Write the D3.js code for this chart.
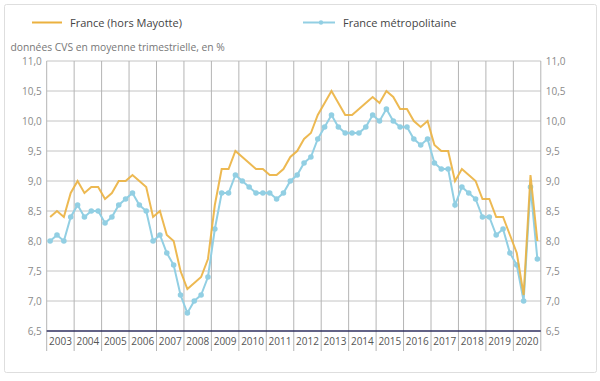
<!DOCTYPE html>
<html>
<head>
<meta charset="utf-8">
<script src="https://cdn.jsdelivr.net/npm/d3@7"></script>
<style>
  body { margin: 0; background: #fff; }
  svg { font-family: "Open Sans", sans-serif; }
</style>
</head>
<body>
<div id="chart"></div>
<script>
var years = ["2003","2004","2005","2006","2007","2008","2009","2010","2011","2012",
  "2013","2014","2015","2016","2017","2018","2019","2020"];

// quarterly values, 4 per year
var franceHorsMayotte = [
  8.4, 8.5, 8.4, 8.8,   9.0, 8.8, 8.9, 8.9,   8.7, 8.8, 9.0, 9.0,
  9.1, 9.0, 8.9, 8.4,   8.5, 8.1, 8.0, 7.5,   7.2, 7.3, 7.4, 7.7,
  8.6, 9.2, 9.2, 9.5,   9.4, 9.3, 9.2, 9.2,   9.1, 9.1, 9.2, 9.4,
  9.5, 9.7, 9.8, 10.1,  10.3, 10.5, 10.3, 10.1, 10.1, 10.2, 10.3, 10.4,
  10.3, 10.5, 10.4, 10.2, 10.2, 10.0, 9.9, 10.0, 9.6, 9.5, 9.5, 9.0,
  9.2, 9.1, 9.0, 8.7,   8.7, 8.4, 8.4, 8.1,   7.8, 7.1, 9.1, 8.0
];
var franceMetro = [
  8.0, 8.1, 8.0, 8.4,   8.6, 8.4, 8.5, 8.5,   8.3, 8.4, 8.6, 8.7,
  8.8, 8.6, 8.5, 8.0,   8.1, 7.8, 7.6, 7.1,   6.8, 7.0, 7.1, 7.4,
  8.2, 8.8, 8.8, 9.1,   9.0, 8.9, 8.8, 8.8,   8.8, 8.7, 8.8, 9.0,
  9.1, 9.3, 9.4, 9.7,   9.9, 10.1, 9.9, 9.8,  9.8, 9.8, 9.9, 10.1,
  10.0, 10.2, 10.0, 9.9, 9.9, 9.7, 9.6, 9.7,  9.3, 9.2, 9.2, 8.6,
  8.9, 8.8, 8.7, 8.4,   8.4, 8.1, 8.2, 7.8,   7.6, 7.0, 8.9, 7.7
];
var yTicks = [6.5, 7.0, 7.5, 8.0, 8.5, 9.0, 9.5, 10.0, 10.5, 11.0];
var seriesNames = ["France (hors Mayotte)", "France métropolitaine"];

var width = 600, height = 381;
var plotLeft = 46.7, plotRight = 540.8, plotTop = 61, plotBottom = 331;
var orange = "#ebb13f", blue = "#92cfe3";

var svg = d3.select("#chart").append("svg")
  .attr("width", width)
  .attr("height", height);

// card
svg.append("rect")
  .attr("x", 4.5).attr("y", 4.5)
  .attr("width", 592).attr("height", 368)
  .attr("rx", 2)
  .attr("fill", "#fff")
  .attr("stroke", "#dedede");

var xBand = d3.scaleBand().domain(years).range([plotLeft, plotRight]);
var y = d3.scaleLinear().domain([6.5, 11]).range([plotBottom, plotTop]);

function qx(i) {
  var yr = years[Math.floor(i / 4)];
  return xBand(yr) + xBand.bandwidth() * ((i % 4) + 0.5) / 4;
}

// horizontal grid
svg.append("g")
  .selectAll("line")
  .data(yTicks.slice(1))
  .join("line")
  .attr("x1", plotLeft).attr("x2", plotRight)
  .attr("y1", d => y(d)).attr("y2", d => y(d))
  .attr("stroke", "#c4c4c4");

// vertical grid (year boundaries), extended into the label row
var bounds = years.map(d => xBand(d)).concat([plotRight]);
svg.append("g")
  .selectAll("line")
  .data(bounds)
  .join("line")
  .attr("x1", d => d).attr("x2", d => d)
  .attr("y1", plotTop).attr("y2", 351)
  .attr("stroke", "#b4b4b4");

// base line
svg.append("line")
  .attr("x1", plotLeft).attr("x2", plotRight)
  .attr("y1", y(6.5)).attr("y2", y(6.5))
  .attr("stroke", "#2f2f5f")
  .attr("stroke-width", 1.3);

var fmt = d => d.toFixed(1).replace(".", ",");

var yl = svg.append("g")
  .attr("transform", "translate(" + plotLeft + ",0)")
  .call(d3.axisLeft(y).tickValues(yTicks).tickFormat(fmt).tickSize(0).tickPadding(5));
var yr = svg.append("g")
  .attr("transform", "translate(" + plotRight + ",0)")
  .call(d3.axisRight(y).tickValues(yTicks).tickFormat(fmt).tickSize(0).tickPadding(5));
[yl, yr].forEach(function (g) {
  g.select(".domain").remove();
  g.selectAll("text").attr("fill", "#8a8a8a").style("font-size", "10px")
    .style("font-family", "Open Sans, sans-serif");
});

// year labels
svg.append("g")
  .selectAll("text")
  .data(years)
  .join("text")
  .attr("x", d => xBand(d) + xBand.bandwidth() / 2)
  .attr("y", 345)
  .attr("text-anchor", "middle")
  .attr("fill", "#555")
  .style("font-size", "10px")
  .text(d => d);

// lines
var line = d3.line()
  .x((d, i) => qx(i))
  .y(d => y(d));

svg.append("path")
  .attr("d", line(franceMetro))
  .attr("fill", "none")
  .attr("stroke", blue)
  .attr("stroke-width", 2);

svg.append("g")
  .selectAll("circle")
  .data(franceMetro)
  .join("circle")
  .attr("cx", (d, i) => qx(i))
  .attr("cy", d => y(d))
  .attr("r", 2.8)
  .attr("fill", blue);

svg.append("path")
  .attr("d", line(franceHorsMayotte))
  .attr("fill", "none")
  .attr("stroke", orange)
  .attr("stroke-width", 2)
  .attr("opacity", 0.9);

// legend
svg.append("line")
  .attr("x1", 32).attr("x2", 62).attr("y1", 22.5).attr("y2", 22.5)
  .attr("stroke", orange).attr("stroke-width", 2);
svg.append("text")
  .attr("x", 70).attr("y", 26.5)
  .attr("fill", "#444").style("font-size", "11px")
  .text(seriesNames[0]);

svg.append("line")
  .attr("x1", 303).attr("x2", 335).attr("y1", 22.5).attr("y2", 22.5)
  .attr("stroke", blue).attr("stroke-width", 2);
svg.append("circle")
  .attr("cx", 321).attr("cy", 22.5).attr("r", 2.2).attr("fill", blue);
svg.append("text")
  .attr("x", 343).attr("y", 26.5)
  .attr("fill", "#444").style("font-size", "11px")
  .text(seriesNames[1]);

svg.append("text")
  .attr("x", 10.5).attr("y", 51)
  .attr("fill", "#777").style("font-size", "10.3px")
  .text("données CVS en moyenne trimestrielle, en %");
</script>
</body>
</html>
